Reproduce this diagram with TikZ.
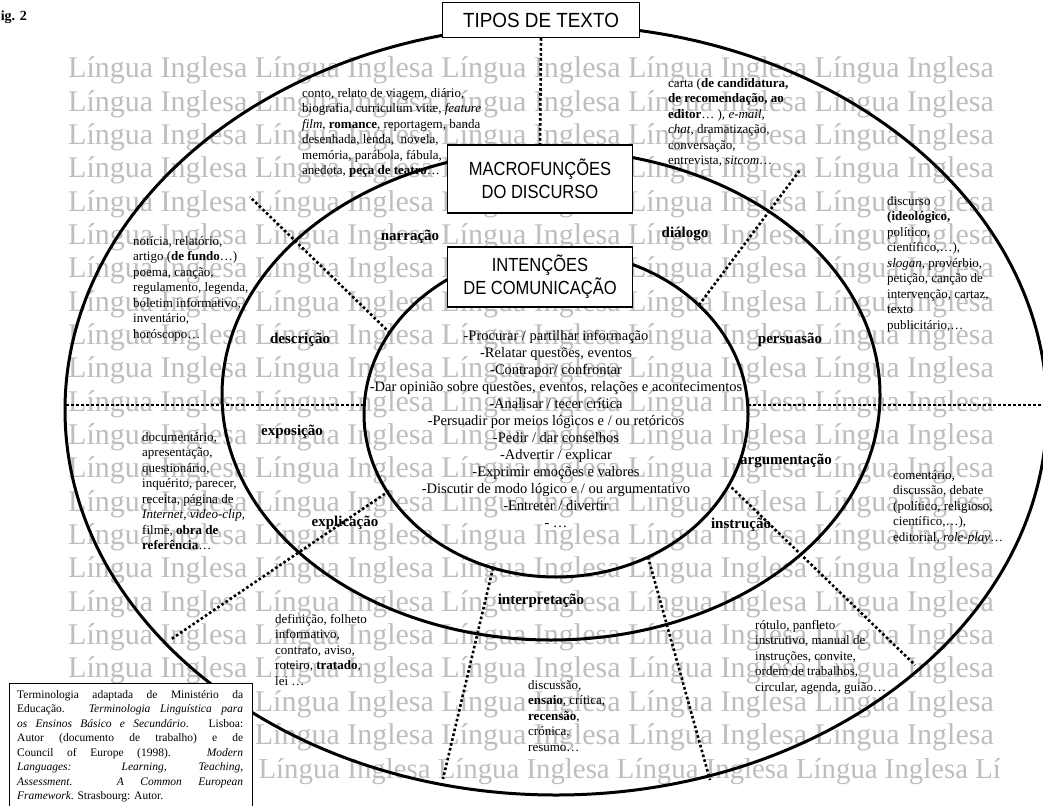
\documentclass[tikz,border=0pt]{standalone}
\usepackage{fontspec}
\setmainfont{Liberation Serif}
\newfontfamily\boxfont[FakeStretch=0.87]{Liberation Sans}
\newfontfamily\tipofont[FakeStretch=0.92]{Liberation Sans}
\definecolor{wm}{RGB}{190,190,190}
\begin{document}
\begin{tikzpicture}[x=1pt,y=-1pt,
  wmtext/.style={font=\fontsize{30}{30}\selectfont, text=wm, inner sep=0, anchor=base west},
  block/.style={font=\fontsize{13}{15.5}\selectfont, align=left, inner sep=0, anchor=north west},
  lab/.style={font=\fontsize{15}{17}\selectfont\bfseries, inner sep=0},
  ring/.style={line width=3pt},
  sep/.style={line width=2.6pt, dash pattern=on 2.6pt off 2.4pt},
  titlebox/.style={draw, fill=white, line width=1.3pt, font=\boxfont\fontsize{19}{23}\selectfont, align=center, inner sep=0}
]
\useasboundingbox (0,0) rectangle (1043,805);
\fill[white] (0,0) rectangle (1043,805);

% watermark
\foreach \k in {0,...,20} {
  \node[wmtext] (wm\k) at (68,{78+33.33*\k}) {Língua Inglesa Língua Inglesa Língua Inglesa Língua Inglesa Língua Inglesa};
}
\node[wmtext, font=\fontsize{28.8}{30}\selectfont, anchor=base east] (wmlast) at (1001,778) {Língua Inglesa Língua Inglesa Língua Inglesa Língua Inglesa Lí};

% rings
\begin{scope}
\clip (0,0) rectangle (1043,805);
\draw[ring] (556,410) ellipse [x radius=491pt, y radius=385pt];
\end{scope}
\draw[ring] (551,395) ellipse [x radius=329pt, y radius=245pt];
\draw[ring] (556,414) ellipse [x radius=192pt, y radius=163pt];

% boxes
\node[titlebox, font=\tipofont\fontsize{20.5}{24}\selectfont, minimum width=197pt, minimum height=35pt] (tipos) at (541,20) {TIPOS DE TEXTO};
\node[titlebox, minimum width=185pt, minimum height=68pt] (macro) at (540,179) {MACROFUNÇÕES\\DO DISCURSO};
\node[titlebox, minimum width=185pt, minimum height=60pt] (intenc) at (540,277) {INTENÇÕES\\DE COMUNICAÇÃO};

% separators
\coordinate (trA) at (699,305); \coordinate (trB) at (800,170);
\coordinate (tlA) at (390,333); \coordinate (tlB) at (250,197);
\coordinate (lA) at (364,405);  \coordinate (lB) at (66,405);
\coordinate (rA) at (748,405);  \coordinate (rB) at (1043,405);
\coordinate (llA) at (389,491); \coordinate (llB) at (170,640);
\coordinate (blA) at (493,568); \coordinate (blB) at (443,779);
\coordinate (brA) at (648,557); \coordinate (brB) at (710,780);
\coordinate (lrA) at (728,484); \coordinate (lrB) at (915,665);
\draw[sep] (tipos.south) -- (macro.north);
\draw[sep] (trA) -- (trB);
\draw[sep] (tlA) -- (tlB);
\draw[sep] (lA) -- (lB);
\draw[sep] (rA) -- (rB);
\draw[sep] (llA) -- (llB);
\draw[sep] (blA) -- (blB);
\draw[sep] (brA) -- (brB);
\draw[sep] (lrA) -- (lrB);

% macro-function labels
\node[lab] (narr) at (410,237) {narração};
\node[lab] (dial) at (685,234) {diálogo};
\node[lab] (desc) at (300,340) {descrição};
\node[lab] (pers) at (790,340) {persuasão};
\node[lab] (expo) at (292,432) {exposição};
\node[lab] (argu) at (786,461) {argumentação};
\node[lab] (expl) at (345,523) {explicação};
\node[lab] (inst) at (741,525) {instrução};
\node[lab] (interp) at (541,601) {interpretação};

% intentions
\node[font=\fontsize{14.5}{17}\selectfont, align=center, inner sep=0, anchor=north] (intent) at (556,330) {%
-Procurar / partilhar informação\\
-Relatar questões, eventos\\
-Contrapor/ confrontar\\
-Dar opinião sobre questões, eventos, relações e acontecimentos\\
-Analisar / tecer crítica\\
-Persuadir por meios lógicos e / ou retóricos\\
-Pedir / dar conselhos\\
-Advertir / explicar\\
-Exprimir emoções e valores\\
-Discutir de modo lógico e / ou argumentativo\\
-Entreter / divertir\\
- …};

% text types
\node[block] (tl) at (302,88) {conto,\ relato de viagem, diário,\\
biografia, curriculum vitæ, \textit{feature}\\
\textit{film}, \textbf{romance}, reportagem, banda\\
desenhada, lenda,\ \ novela,\\
memória, parábola, fábula,\\
anedota, \textbf{peça de teatro}…};

\node[block] (tr) at (668,78) {carta (\textbf{de candidatura,}\\
\textbf{de recomendação, ao}\\
\textbf{editor}… ), \textit{e-mail},\\
\textit{chat}, dramatização,\\
conversação,\\
entrevista, \textit{sitcom}…};

\node[block] (l) at (133,236) {notícia, relatório,\\
artigo (\textbf{de fundo}…)\\
poema, canção,\\
regulamento, legenda,\\
boletim informativo,\\
inventário,\\
horóscopo…};

\node[block] (r) at (887,196) {discurso\\
\textbf{(ideológico,}\\
político,\\
científico,…),\\
\textit{slogan}, provérbio,\\
petição, canção de\\
intervenção, cartaz,\\
texto\\
publicitário,…};

\node[block] (ll) at (142,432) {documentário,\\
apresentação,\\
questionário,\\
inquérito, parecer,\\
receita, página de\\
\textit{Internet}, \textit{video-clip},\\
filme, \textbf{obra de}\\
\textbf{referência}…};

\node[block] (rl) at (893,470) {comentário,\\
discussão, debate\\
(político, religioso,\\
científico,…),\\
editorial, \textit{role-play}…};

\node[block] (bl) at (275,614) {definição, folheto\\
informativo,\\
contrato, aviso,\\
roteiro, \textbf{tratado},\\
lei …};

\node[block] (bm) at (528,680) {discussão,\\
\textbf{ensaio}, crítica,\\
\textbf{recensão},\\
crónica,\\
resumo…};

\node[block] (br) at (755,620) {rótulo, panfleto\\
instrutivo, manual de\\
instruções, convite,\\
ordem de trabalhos,\\
circular, agenda, guião…};

% citation box
\draw[fill=white, line width=1pt] (9,683) rectangle (252,812);
\node[font=\fontsize{11.5}{14.5}\selectfont, text width=226pt, align=justify, inner sep=0, anchor=north west] (cite) at (17,690) {%
Terminologia adaptada de Ministério da\linebreak
Educação. \textit{Terminologia Linguística para}\linebreak
\textit{os Ensinos Básico e Secundário}. Lisboa:\linebreak
Autor (documento de trabalho) e de\linebreak
Council of Europe (1998). \textit{Modern}\linebreak
\textit{Languages: Learning, Teaching,}\linebreak
\textit{Assessment. A Common European}\linebreak
\textit{Framework}. Strasbourg: Autor.};

% figure label
\node[font=\fontsize{14}{16}\selectfont\bfseries, inner sep=0, anchor=base west] (fig) at (-8,21) {Fig. 2};
\end{tikzpicture}
\end{document}
